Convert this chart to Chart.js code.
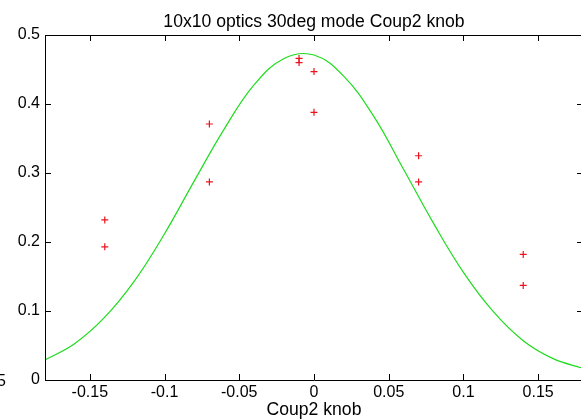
<!DOCTYPE html>
<html>
<head>
<meta charset="utf-8">
<script src="https://cdn.jsdelivr.net/npm/chart.js@4/dist/chart.umd.min.js"></script>
<style>
  html, body { margin: 0; padding: 0; background: #fff; overflow: hidden; }
  #wrap { width: 600px; height: 420px; }
</style>
</head>
<body>
<div id="wrap"><canvas id="myChart" width="600" height="420"></canvas></div>
<script>
const titleText = "10x10 optics 30deg mode Coup2 knob";
const xLabel = "Coup2 knob";

// measured points (red +)
const pointX = [-0.14, -0.14, -0.07, -0.07, -0.01, -0.01, 0, 0, 0.07, 0.07, 0.14, 0.14];
const pointY = [0.232, 0.193, 0.371, 0.287, 0.466, 0.460, 0.447, 0.388, 0.325, 0.287, 0.182, 0.137];

// fitted curve (green)
const curveX = [-0.18, -0.16, -0.14, -0.12, -0.10, -0.08, -0.06, -0.04, -0.02, 0, 0.02, 0.04, 0.06, 0.08, 0.10, 0.12, 0.14, 0.16, 0.18];
const curveY = [0.029, 0.053, 0.091, 0.144, 0.212, 0.289, 0.364, 0.428, 0.466, 0.471, 0.440, 0.382, 0.305, 0.227, 0.156, 0.099, 0.057, 0.031, 0.017];

const xTicks = [-0.15, -0.1, -0.05, 0, 0.05, 0.1, 0.15];
const yTicks = [0, 0.1, 0.2, 0.3, 0.4, 0.5];

const FONT = "'Liberation Sans', Arial, sans-serif";

const boxPlugin = {
  id: "box",
  afterDatasetsDraw(chart) {
    const { ctx, chartArea: a, scales } = chart;
    const tl = 6;
    ctx.save();
    ctx.strokeStyle = "#000";
    ctx.lineWidth = 1;
    ctx.beginPath();
    ctx.rect(a.left + 0.5, a.top + 0.5, a.right - a.left, a.bottom - a.top);
    scales.x.ticks.forEach((t) => {
      const px = Math.round(scales.x.getPixelForValue(t.value)) + 0.5;
      ctx.moveTo(px, a.bottom);
      ctx.lineTo(px, a.bottom - tl);
      ctx.moveTo(px, a.top);
      ctx.lineTo(px, a.top + tl);
    });
    scales.y.ticks.forEach((t) => {
      const py = Math.round(scales.y.getPixelForValue(t.value)) + 0.5;
      ctx.moveTo(a.left, py);
      ctx.lineTo(a.left + tl, py);
      ctx.moveTo(a.right, py);
      ctx.lineTo(a.right - tl, py);
    });
    ctx.stroke();
    ctx.restore();
  },
  afterDraw(chart) {
    const { ctx, chartArea: a } = chart;
    ctx.save();
    ctx.fillStyle = "#000";
    ctx.font = "17.6px " + FONT;
    ctx.textAlign = "center";
    ctx.textBaseline = "alphabetic";
    ctx.fillText(titleText, (a.left + a.right) / 2, 27);
    // clipped label at the left edge
    ctx.font = "16px " + FONT;
    ctx.textAlign = "right";
    ctx.fillText("5", 6, 386);
    ctx.restore();
  },
};

const config = {
  type: "scatter",
  data: {
    datasets: [
      {
        data: pointX.map((x, i) => ({ x: x, y: pointY[i] })),
        pointStyle: "cross",
        pointRadius: 3.5,
        pointBorderWidth: 1.2,
        borderColor: "rgb(235, 20, 30)",
        backgroundColor: "rgb(235, 20, 30)",
        showLine: false,
      },
      {
        data: curveX.map((x, i) => ({ x: x, y: curveY[i] })),
        showLine: true,
        borderColor: "rgb(30, 220, 30)",
        borderWidth: 1.2,
        pointRadius: 0,
        tension: 0.4,
      },
    ],
  },
  options: {
    responsive: false,
    animation: false,
    devicePixelRatio: 1,
    layout: {
      padding: { top: 35, right: 17, left: 0, bottom: 0 },
    },
    plugins: {
      legend: { display: false },
      title: { display: false },
      tooltip: { enabled: false },
    },
    scales: {
      x: {
        type: "linear",
        min: -0.18,
        max: 0.18,
        afterBuildTicks: (scale) => {
          scale.ticks = xTicks.map((v) => ({ value: v }));
        },
        afterFit: (scale) => {
          scale.height = 40;
        },
        grid: { display: false, drawTicks: false },
        border: { display: false },
        ticks: {
          padding: 3,
          color: "#000",
          maxRotation: 0,
          font: { family: FONT, size: 16 },
          callback: (v) => String(v),
        },
        title: {
          display: true,
          text: xLabel,
          color: "#000",
          padding: { top: 0, bottom: -1 },
          font: { family: FONT, size: 17.6 },
        },
      },
      y: {
        type: "linear",
        min: 0,
        max: 0.5,
        afterBuildTicks: (scale) => {
          scale.ticks = yTicks.map((v) => ({ value: v }));
        },
        afterFit: (scale) => {
          scale.width = 45;
        },
        grid: { display: false, drawTicks: false },
        border: { display: false },
        ticks: {
          padding: 5,
          color: "#000",
          font: { family: FONT, size: 16 },
          callback: (v) => String(v),
        },
      },
    },
  },
  plugins: [boxPlugin],
};

const myChart = new Chart(document.getElementById("myChart"), config);
</script>
</body>
</html>
